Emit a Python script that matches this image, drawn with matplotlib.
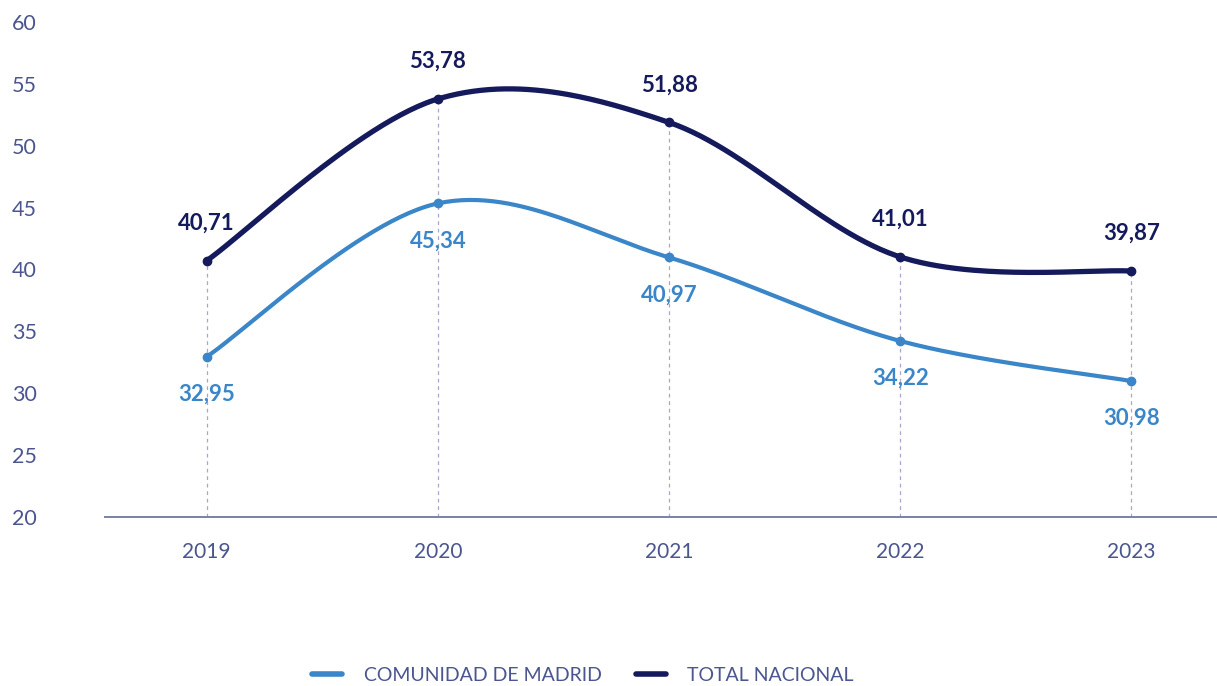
import matplotlib
matplotlib.use('Agg')
from matplotlib import pyplot as plt
from matplotlib.lines import Line2D
import numpy as np

plt.rcParams['font.family'] = ['Lato', 'DejaVu Sans']

years = ['2019', '2020', '2021', '2022', '2023']
madrid = [32.95, 45.34, 40.97, 34.22, 30.98]
nacional = [40.71, 53.78, 51.88, 41.01, 39.87]
y_ticks = [20, 25, 30, 35, 40, 45, 50, 55, 60]

NAVY = '#141a5c'
LIGHT = '#3a86c8'
TEXT = '#4b558f'


def smooth(xs, ys, n=60):
    # bezier curve through the points, control points like a catmull-rom spline
    xs = np.asarray(xs, float)
    ys = np.asarray(ys, float)
    px = np.concatenate([[xs[0]], xs, [xs[-1]]])
    py = np.concatenate([[ys[0]], ys, [ys[-1]]])
    out_x, out_y = [], []
    t = np.linspace(0, 1, n)
    for i in range(1, len(px) - 2):
        x0, x1, x2, x3 = px[i - 1], px[i], px[i + 1], px[i + 2]
        y0, y1, y2, y3 = py[i - 1], py[i], py[i + 1], py[i + 2]
        c1x, c1y = x1 + (x2 - x0) / 6, y1 + (y2 - y0) / 6
        c2x, c2y = x2 - (x3 - x1) / 6, y2 - (y3 - y1) / 6
        bx = (1 - t) ** 3 * x1 + 3 * (1 - t) ** 2 * t * c1x + 3 * (1 - t) * t ** 2 * c2x + t ** 3 * x2
        by = (1 - t) ** 3 * y1 + 3 * (1 - t) ** 2 * t * c1y + 3 * (1 - t) * t ** 2 * c2y + t ** 3 * y2
        out_x.extend(bx)
        out_y.extend(by)
    return np.array(out_x), np.array(out_y)


def fmt(v):
    return f'{v:.2f}'.replace('.', ',')


fig = plt.figure(figsize=(12.17, 6.86), dpi=100)
ax = fig.add_axes([0.0863, 0.2464, 0.9137, 0.7216])

x = np.arange(len(years))

for i in x:
    ax.plot([i, i], [20, nacional[i]], color='#a9a6c9', lw=0.9, ls=(0, (3, 3)), zorder=1)

sx, sy = smooth(x, madrid)
ax.plot(sx, sy, color=LIGHT, lw=3.0, solid_capstyle='round', zorder=3)
ax.plot(x, madrid, 'o', color=LIGHT, ms=6, zorder=4)

sx, sy = smooth(x, nacional)
ax.plot(sx, sy, color=NAVY, lw=3.8, solid_capstyle='round', zorder=3)
ax.plot(x, nacional, 'o', color=NAVY, ms=6, zorder=4)

for i in x:
    ax.annotate(fmt(nacional[i]), (i, nacional[i]), xytext=(0, 27), textcoords='offset points',
                ha='center', va='center', fontsize=16, fontweight='bold', color=NAVY)
    ax.annotate(fmt(madrid[i]), (i, madrid[i]), xytext=(0, -27), textcoords='offset points',
                ha='center', va='center', fontsize=16, fontweight='bold', color=LIGHT)

ax.set_xlim(-0.44, 4.37)
ax.set_ylim(20, 60)
ax.set_xticks(x)
ax.set_xticklabels(years)
ax.set_yticks(y_ticks)
ax.tick_params(axis='y', length=0, pad=49, labelsize=15.5, labelcolor=TEXT)
ax.tick_params(axis='x', length=0, pad=18, labelsize=15, labelcolor=TEXT)

for s in ['top', 'right', 'left']:
    ax.spines[s].set_visible(False)
ax.spines['bottom'].set_color('#7b80a8')
ax.spines['bottom'].set_linewidth(1.4)

handles = [Line2D([0], [0], color=LIGHT, lw=4, solid_capstyle='round'),
           Line2D([0], [0], color=NAVY, lw=4, solid_capstyle='round')]
fig.legend(handles, ['COMUNIDAD DE MADRID', 'TOTAL NACIONAL'], loc='center', bbox_to_anchor=(0.479, 0.016),
           ncol=2, frameon=False, fontsize=14, labelcolor=TEXT, handlelength=1.55, columnspacing=1.75,
           handletextpad=1.1)

plt.savefig('out.png')
